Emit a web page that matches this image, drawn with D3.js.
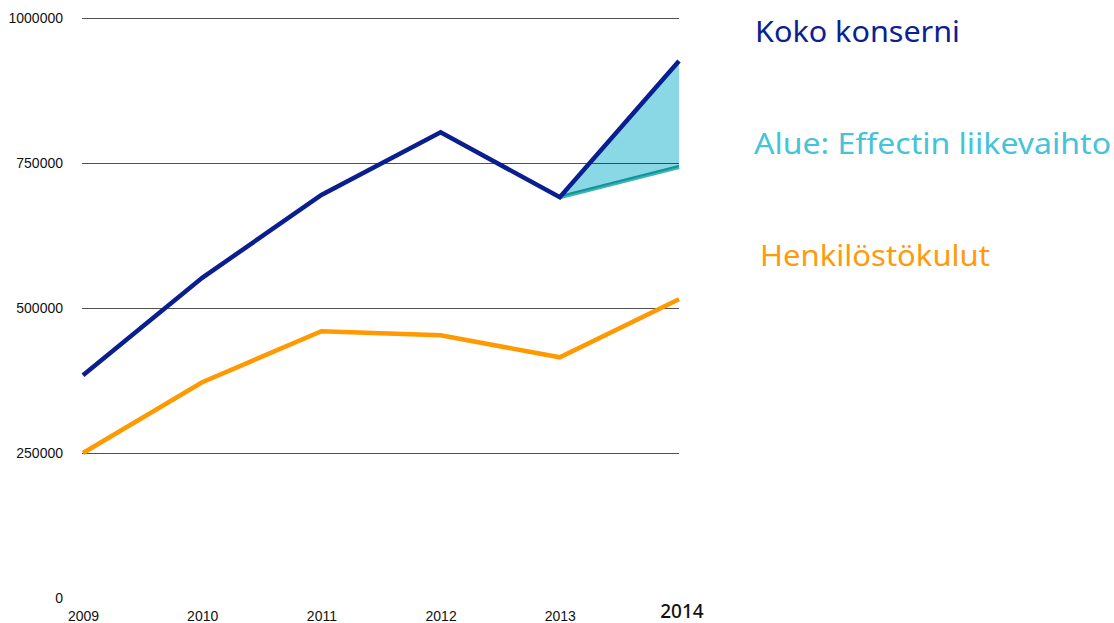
<!DOCTYPE html>
<html>
<head>
<meta charset="utf-8">
<script src="https://cdn.jsdelivr.net/npm/d3@7"></script>
<style>
  html, body { margin: 0; padding: 0; background: #fff; }
  svg { display: block; }
</style>
</head>
<body>
<svg id="chart" width="1114" height="623"></svg>
<script>
// ---- data ----
const years = [2009, 2010, 2011, 2012, 2013, 2014];
const kokoKonserni = [384000, 552000, 695000, 803000, 691000, 926000];
const henkilostokulut = [250000, 372000, 460000, 453000, 415000, 515000];
const effectYears = [2013, 2014];
const effectLower = [691000, 743000];
const yTicks = [0, 250000, 500000, 750000, 1000000];
const legendLabels = ["Koko konserni", "Alue: Effectin liikevaihto", "Henkilöstökulut"];

// ---- layout ----
const svg = d3.select("#chart");
const x = d3.scaleLinear().domain([2009, 2014]).range([83, 679]);
const y = d3.scaleLinear().domain([0, 1000000]).range([598, 18]);

// area between Koko konserni and Effect lower line (2013-2014)
const areaData = effectYears.map((yr, i) => ({
  year: yr,
  top: kokoKonserni[years.indexOf(yr)],
  bottom: effectLower[i]
}));
svg.append("path")
  .datum(areaData)
  .attr("fill", "#8ad8e6")
  .attr("d", d3.area().x(d => x(d.year)).y0(d => y(d.bottom)).y1(d => y(d.top)));

// gridlines (no line at 0)
svg.append("g").selectAll("line")
  .data(yTicks.filter(t => t > 0))
  .join("line")
  .attr("x1", 82).attr("x2", 679)
  .attr("y1", d => Math.round(y(d)) + 0.5).attr("y2", d => Math.round(y(d)) + 0.5)
  .attr("stroke", "#333").attr("stroke-opacity", 0.85).attr("stroke-width", 1);

// y axis labels
const yAxis = d3.axisLeft(y).tickValues(yTicks).tickSize(0).tickPadding(0).tickFormat(d3.format("d"));
const gy = svg.append("g").attr("transform", "translate(63,0)").call(yAxis);
gy.select(".domain").remove();
gy.selectAll("text")
  .attr("font-family", "Liberation Sans, Arial, sans-serif")
  .attr("font-size", 14)
  .attr("fill", "#111");

// x axis labels
const xAxis = d3.axisBottom(x).tickValues(years.slice(0, 5)).tickSize(0).tickPadding(0).tickFormat(d3.format("d"));
const gx = svg.append("g").attr("transform", "translate(0,611)").call(xAxis);
gx.select(".domain").remove();
gx.selectAll("text")
  .attr("font-family", "Liberation Sans, Arial, sans-serif")
  .attr("font-size", 14)
  .attr("fill", "#111");
svg.append("text")
  .attr("x", x(2014) + 3).attr("y", 618)
  .attr("text-anchor", "middle")
  .attr("font-family", "Noto Sans, sans-serif")
  .attr("font-size", 19)
  .attr("font-weight", 500)
  .attr("fill", "#111")
  .text(years[5]);

// Effect lower line
const effLine = d3.line().x(d => x(d[0])).y(d => y(d[1]));
svg.append("path")
  .datum(effectYears.map((yr, i) => [yr, effectLower[i]]))
  .attr("fill", "none")
  .attr("stroke", "#3bb3b8")
  .attr("stroke-width", 4)
  .attr("d", effLine);
svg.append("path")
  .datum(effectYears.map((yr, i) => [yr, effectLower[i]]))
  .attr("fill", "none")
  .attr("stroke", "#14949a")
  .attr("stroke-width", 2)
  .attr("transform", "translate(0,-1)")
  .attr("d", effLine);

// main lines
const line = d3.line().x((d, i) => x(years[i])).y(d => y(d));
svg.append("path")
  .datum(henkilostokulut)
  .attr("fill", "none")
  .attr("stroke", "#ff9900")
  .attr("stroke-width", 4.5)
  .attr("stroke-linejoin", "miter")
  .attr("d", line);
svg.append("path")
  .datum(kokoKonserni)
  .attr("fill", "none")
  .attr("stroke", "#0a1e8f")
  .attr("stroke-width", 4.5)
  .attr("stroke-linejoin", "miter")
  .attr("d", line);

// legend texts
const legend = [
  { label: legendLabels[0], color: "#0b2190", x: 755, y: 42, w: 205 },
  { label: legendLabels[1], color: "#45c3d8", x: 754, y: 154, w: 357 },
  { label: legendLabels[2], color: "#ff9a0d", x: 760, y: 266, w: 230 }
];
svg.append("g").selectAll("text")
  .data(legend)
  .join("text")
  .attr("x", d => d.x).attr("y", d => d.y)
  .attr("font-family", "Noto Sans, sans-serif")
  .attr("font-size", 29)
  .attr("fill", d => d.color)
  .attr("textLength", d => d.w)
  .attr("lengthAdjust", "spacingAndGlyphs")
  .text(d => d.label);
</script>
</body>
</html>
